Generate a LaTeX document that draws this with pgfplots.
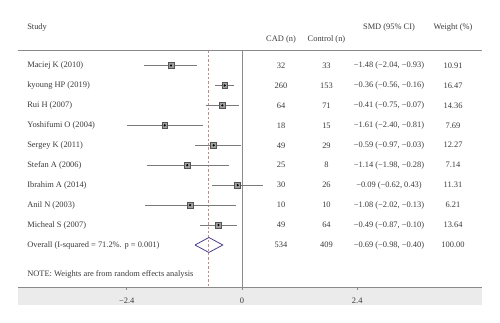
\documentclass[border=0pt]{standalone}
\usepackage{pgfplots}
\pgfplotsset{compat=1.18}
\usepackage{fontspec}
\setmainfont{Liberation Serif}
\definecolor{textgray}{HTML}{3A3A3A}
\definecolor{linegray}{HTML}{8A8A8A}
\definecolor{cigray}{HTML}{7A7A7A}
\definecolor{sqfill}{HTML}{A0A0A0}
\definecolor{sqdraw}{HTML}{555555}
\definecolor{bandgray}{HTML}{EBEBEB}
\definecolor{refred}{HTML}{C48A8A}
\definecolor{diamblue}{HTML}{4A3E8E}
\newcommand{\fs}{\fontsize{6.3}{7.5}\selectfont}
\tikzset{txt/.style={font=\fs, text=textgray, inner sep=0pt}}
\begin{document}
\begin{tikzpicture}
\pgfplotstableread{
row es em ep
-1 -1.48 0.56 0.55
-2 -0.36 0.20 0.20
-3 -0.41 0.34 0.34
-4 -1.61 0.79 0.80
-5 -0.59 0.38 0.56
-6 -1.14 0.84 0.86
-7 -0.09 0.53 0.52
-8 -1.08 0.94 0.95
-9 -0.49 0.38 0.39
}\studies
% grey band under the axis
\fill[bandgray] (0,0) rectangle (348pt,-13.5pt);
\path[use as bounding box] (-13.5pt,-26.25pt) rectangle (361.5pt,215.3pt);
\begin{axis}[
  scale only axis,
  width=348pt, height=177.4pt,
  at={(0,0)}, anchor=south west,
  xmin=-4.667, xmax=5.0,
  ymin=-12.11, ymax=-0.25,
  clip=false,
  axis x line*=bottom,
  axis y line=none,
  x axis line style={-, draw=linegray, line width=0.6pt},
  xtick={-2.4,0,2.4},
  xticklabels={−2.4,0,2.4},
  ytick=\empty,
  tick align=outside,
  major tick length=2pt,
  tick style={draw=linegray, line width=0.5pt},
  xticklabel style={font=\fs, text=textgray, anchor=center, yshift=-8.25pt},
]
% top rule
\draw[linegray, line width=0.6pt] (rel axis cs:0,1) -- (rel axis cs:1,1);
% zero line
\draw[linegray, line width=0.6pt] (axis cs:0,-0.25) -- (axis cs:0,-12.11);
% overall dashed line
\draw[refred, line width=0.6pt, dash pattern=on 1.8pt off 1.5pt] (axis cs:-0.69,-0.25) -- (axis cs:-0.69,-12.11);
% CIs
\addplot[only marks, mark=none, error bars/.cd, x dir=both, x explicit, error mark=none,
  error bar style={draw=cigray, line width=0.6pt, solid}]
  table[x=es, y=row, x error minus=em, x error plus=ep] {\studies};
% squares
\addplot[only marks, mark=square*, mark size=2.2pt, mark options={fill=sqfill, draw=sqdraw, line width=0.4pt}]
  table[x=es, y=row] {\studies};
\addplot[only marks, mark=*, mark size=0.6pt, mark options={fill=black, draw=black}]
  table[x=es, y=row] {\studies};
% diamond
\addplot[draw=diamblue, line width=0.6pt, mark=none] coordinates {(-0.98,-10) (-0.69,-9.625) (-0.40,-10) (-0.69,-10.375) (-0.98,-10)};
% headers
\node[txt, anchor=west] at (axis cs:-4.479,0.92) {Study};
\node[txt] at (axis cs:0.8125,0.29) {CAD (n)};
\node[txt] at (axis cs:1.760,0.29) {Control (n)};
\node[txt] at (axis cs:3.0625,0.92) {SMD (95\% CI)};
\node[txt] at (axis cs:4.396,0.92) {Weight (\%)};
% rows
\node[txt, anchor=west] at (axis cs:-4.479,-1) {Maciej K (2010)};
\node[txt, anchor=west] at (axis cs:-4.479,-2) {kyoung HP (2019)};
\node[txt, anchor=west] at (axis cs:-4.479,-3) {Rui H (2007)};
\node[txt, anchor=west] at (axis cs:-4.479,-4) {Yoshifumi O (2004)};
\node[txt, anchor=west] at (axis cs:-4.479,-5) {Sergey K (2011)};
\node[txt, anchor=west] at (axis cs:-4.479,-6) {Stefan A (2006)};
\node[txt, anchor=west] at (axis cs:-4.479,-7) {Ibrahim A (2014)};
\node[txt, anchor=west] at (axis cs:-4.479,-8) {Anil N (2003)};
\node[txt, anchor=west] at (axis cs:-4.479,-9) {Micheal S (2007)};
\node[txt, anchor=west] at (axis cs:-4.479,-10) {Overall (I-squared = 71.2\%. p = 0.001)};
\node[txt, anchor=west] at (axis cs:-4.479,-11.46) {NOTE: Weights are from random effects analysis};
% CAD
\node[txt] at (axis cs:0.8125,-1) {32};
\node[txt] at (axis cs:0.8125,-2) {260};
\node[txt] at (axis cs:0.8125,-3) {64};
\node[txt] at (axis cs:0.8125,-4) {18};
\node[txt] at (axis cs:0.8125,-5) {49};
\node[txt] at (axis cs:0.8125,-6) {25};
\node[txt] at (axis cs:0.8125,-7) {30};
\node[txt] at (axis cs:0.8125,-8) {10};
\node[txt] at (axis cs:0.8125,-9) {49};
\node[txt] at (axis cs:0.8125,-10) {534};
% Control
\node[txt] at (axis cs:1.760,-1) {33};
\node[txt] at (axis cs:1.760,-2) {153};
\node[txt] at (axis cs:1.760,-3) {71};
\node[txt] at (axis cs:1.760,-4) {15};
\node[txt] at (axis cs:1.760,-5) {29};
\node[txt] at (axis cs:1.760,-6) {8};
\node[txt] at (axis cs:1.760,-7) {26};
\node[txt] at (axis cs:1.760,-8) {10};
\node[txt] at (axis cs:1.760,-9) {64};
\node[txt] at (axis cs:1.760,-10) {409};
% SMD
\node[txt] at (axis cs:3.0625,-1) {−1.48 (−2.04, −0.93)};
\node[txt] at (axis cs:3.0625,-2) {−0.36 (−0.56, −0.16)};
\node[txt] at (axis cs:3.0625,-3) {−0.41 (−0.75, −0.07)};
\node[txt] at (axis cs:3.0625,-4) {−1.61 (−2.40, −0.81)};
\node[txt] at (axis cs:3.0625,-5) {−0.59 (−0.97, −0.03)};
\node[txt] at (axis cs:3.0625,-6) {−1.14 (−1.98, −0.28)};
\node[txt] at (axis cs:3.0625,-7) {−0.09 (−0.62, 0.43)};
\node[txt] at (axis cs:3.0625,-8) {−1.08 (−2.02, −0.13)};
\node[txt] at (axis cs:3.0625,-9) {−0.49 (−0.87, −0.10)};
\node[txt] at (axis cs:3.0625,-10) {−0.69 (−0.98, −0.40)};
% Weight
\node[txt] at (axis cs:4.396,-1) {10.91};
\node[txt] at (axis cs:4.396,-2) {16.47};
\node[txt] at (axis cs:4.396,-3) {14.36};
\node[txt] at (axis cs:4.396,-4) {7.69};
\node[txt] at (axis cs:4.396,-5) {12.27};
\node[txt] at (axis cs:4.396,-6) {7.14};
\node[txt] at (axis cs:4.396,-7) {11.31};
\node[txt] at (axis cs:4.396,-8) {6.21};
\node[txt] at (axis cs:4.396,-9) {13.64};
\node[txt] at (axis cs:4.396,-10) {100.00};
\end{axis}
\end{tikzpicture}
\end{document}
